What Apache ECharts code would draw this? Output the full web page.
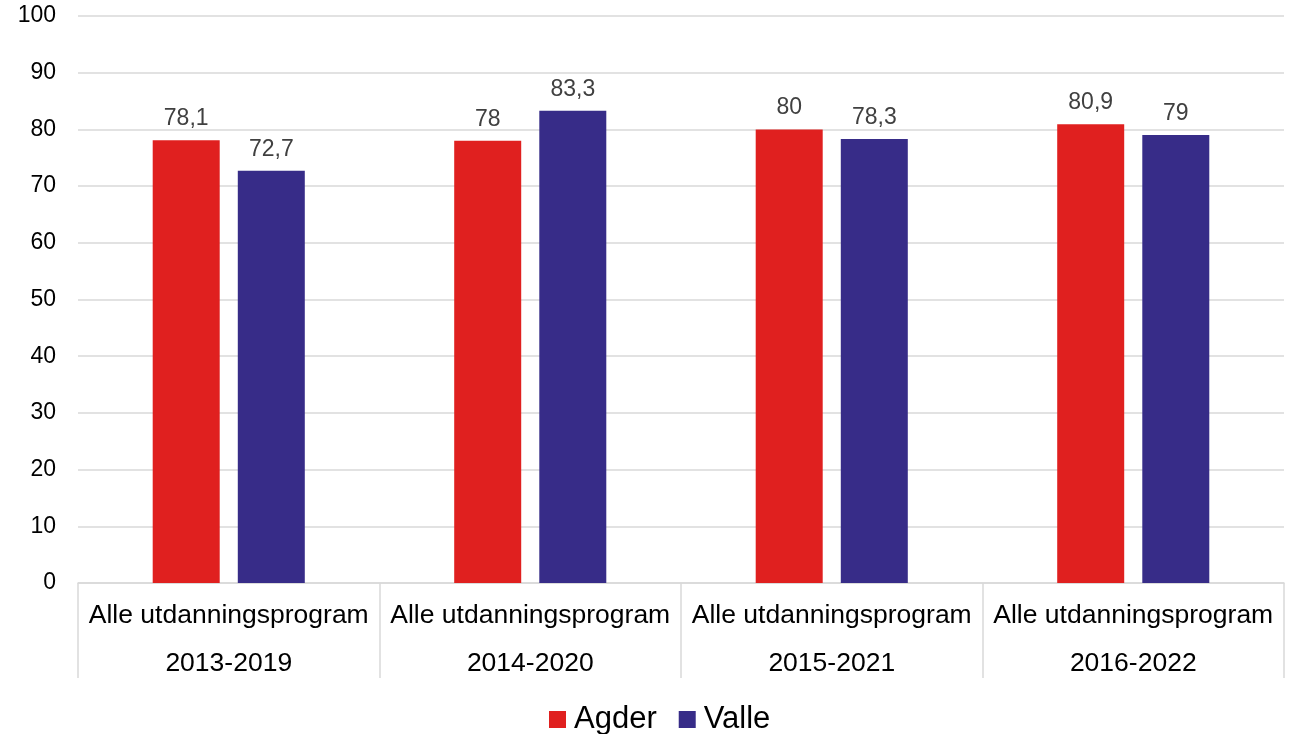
<!DOCTYPE html>
<html>
<head>
<meta charset="utf-8">
<script src="https://cdn.jsdelivr.net/npm/echarts@6/dist/echarts.min.js"></script>
<style>
  html, body { margin: 0; padding: 0; background: #fff; }
  #chart { width: 1299px; height: 734px; }
</style>
</head>
<body>
<div id="chart"></div>
<script>
// kategorier (to nivåer på x-aksen)
var programs = ['Alle utdanningsprogram', 'Alle utdanningsprogram', 'Alle utdanningsprogram', 'Alle utdanningsprogram'];
var periods = ['2013-2019', '2014-2020', '2015-2021', '2016-2022'];
var agder = [78.1, 78, 80, 80.9];
var valle = [72.7, 83.3, 78.3, 79];

var categories = programs.map(function (p, i) { return p + '\n' + periods[i]; });

var chart = echarts.init(document.getElementById('chart'));

var barLabel = {
  show: true,
  position: 'top',
  distance: 10,
  color: '#404040',
  fontSize: 23,
  fontFamily: 'Liberation Sans',
  formatter: function (p) { return String(p.value).replace('.', ','); }
};

chart.setOption({
  animation: false,
  textStyle: { fontFamily: 'Liberation Sans' },
  grid: { left: 78, right: 15, top: 16, bottom: 151, containLabel: false },
  legend: {
    top: 699,
    left: 544,
    itemWidth: 17,
    itemHeight: 17,
    itemGap: 22,
    icon: 'rect',
    textStyle: { fontSize: 31, color: '#000', fontFamily: 'Liberation Sans', padding: [0, 0, 0, 3] },
    data: ['Agder', 'Valle']
  },
  xAxis: {
    type: 'category',
    data: categories,
    axisLine: { lineStyle: { color: '#d9d9d9', width: 1.5 } },
    axisTick: { show: true, length: 95, lineStyle: { color: '#d9d9d9', width: 1.5 } },
    axisLabel: {
      color: '#000',
      fontSize: 26.5,
      lineHeight: 48,
      margin: 9,
      interval: 0
    }
  },
  yAxis: {
    type: 'value',
    min: 0,
    max: 100,
    interval: 10,
    axisLine: { show: false },
    axisTick: { show: false },
    axisLabel: { color: '#000', fontSize: 23, margin: 22 },
    splitLine: { lineStyle: { color: '#d9d9d9', width: 1.5 } }
  },
  series: [
    {
      name: 'Agder',
      type: 'bar',
      data: agder,
      barWidth: 67,
      barGap: '27%',
      itemStyle: { color: '#e0201f' },
      label: barLabel
    },
    {
      name: 'Valle',
      type: 'bar',
      data: valle,
      barWidth: 67,
      itemStyle: { color: '#372c88' },
      label: barLabel
    }
  ]
});
</script>
</body>
</html>
